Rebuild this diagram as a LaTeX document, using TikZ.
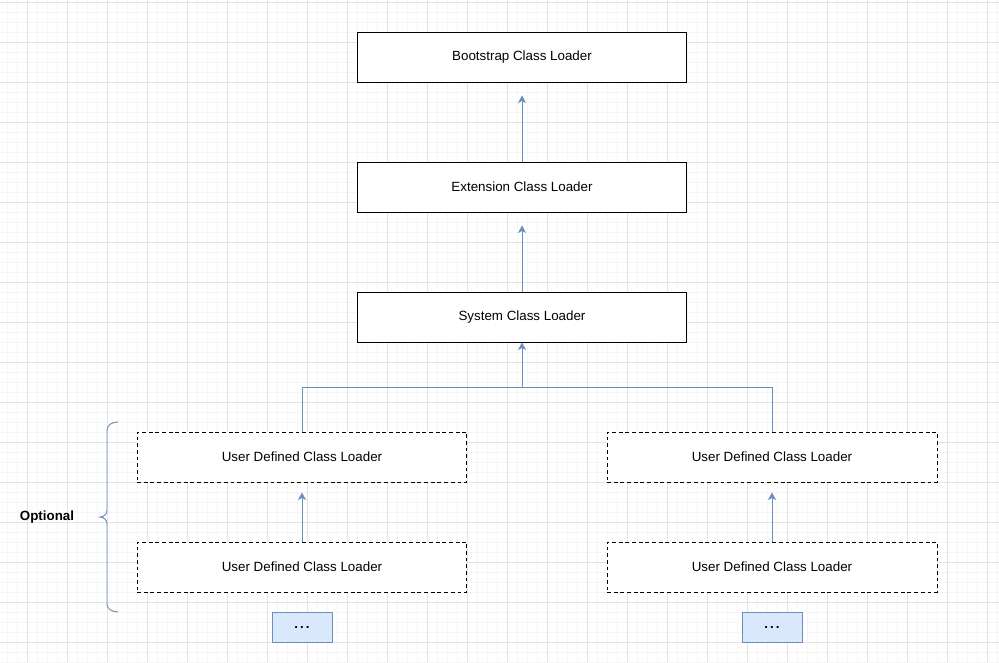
\documentclass[tikz,border=0pt]{standalone}
\usepackage{fontspec}
\setsansfont{Liberation Sans}
\usetikzlibrary{arrows.meta, positioning}
\definecolor{cblue}{HTML}{6C8EBF}
\definecolor{cfill}{HTML}{DAE8FC}
\definecolor{cmajor}{HTML}{E4E4E4}
\definecolor{cminor}{HTML}{F6F6F6}
\tikzset{
  every picture/.style={font=\sffamily\fontsize{7.6}{9}\selectfont, line width=0.55pt},
  loader/.style={draw=black, fill=white, minimum width=6.6cm, minimum height=1cm, inner sep=0pt},
  userloader/.style={loader, dash pattern=on 2.2pt off 1.6pt},
  more/.style={draw=cblue, fill=cfill, minimum width=1.2cm, minimum height=0.6cm, inner sep=0pt},
  arrow/.style={-{Stealth[length=1.5mm, width=1.6mm, inset=0.4mm]}, draw=cblue},
  link/.style={draw=cblue},
}

\begin{document}
\begin{tikzpicture}[x=0.02cm, y=-0.02cm]
  \useasboundingbox (0,0) rectangle (999,662);
  % grid
  \fill[white] (0,0) rectangle (999,662);
  \foreach \x in {7,17,...,997} \draw[cminor, line width=0.5pt] (\x,0) -- (\x,662);
  \foreach \y in {2,12,...,662} \draw[cminor, line width=0.5pt] (0,\y) -- (999,\y);
  \foreach \x in {27,67,...,997} \draw[cmajor, line width=0.5pt] (\x,0) -- (\x,662);
  \foreach \y in {2,42,...,662} \draw[cmajor, line width=0.5pt] (0,\y) -- (999,\y);
  % loaders
  \node[loader] (boot) at (522,57) {Bootstrap Class Loader};
  \node[loader] (ext) at (522,187) {Extension Class Loader};
  \node[loader] (sys) at (522,317) {System Class Loader};
  \node[userloader] (ul1) at (302,457) {User Defined Class Loader};
  \node[userloader] (ul2) at (302,567) {User Defined Class Loader};
  \node[userloader] (ur1) at (772,457) {User Defined Class Loader};
  \node[userloader] (ur2) at (772,567) {User Defined Class Loader};
  \node[more] (dl) at (302,627) {\textbf{.\hspace{1.2pt}.\hspace{1.2pt}.}};
  \node[more] (dr) at (772,627) {\textbf{.\hspace{1.2pt}.\hspace{1.2pt}.}};
  \coordinate (join) at (522,387);
  % arrows
  \draw[arrow, shorten >=0.26cm] (ext) -- (boot);
  \draw[arrow, shorten >=0.26cm] (sys) -- (ext);
  \draw[link] (ul1.north) |- (join);
  \draw[link] (ur1.north) |- (join);
  \draw[arrow] (join) -- (sys);
  \draw[arrow, shorten >=0.2cm] (ul2) -- (ul1);
  \draw[arrow, shorten >=0.2cm] (ur2) -- (ur1);
  % optional brace
  \draw[cblue] (118,422) to[out=180, in=90] (107,430) -- (107,510)
    to[out=-90, in=0] (100,517) to[out=0, in=90] (107,524) -- (107,604)
    to[out=-90, in=180] (118,612);
  \node[font=\sffamily\bfseries\fontsize{7.6}{9}\selectfont] (opt) at (47,517) {Optional};
\end{tikzpicture}
\end{document}
